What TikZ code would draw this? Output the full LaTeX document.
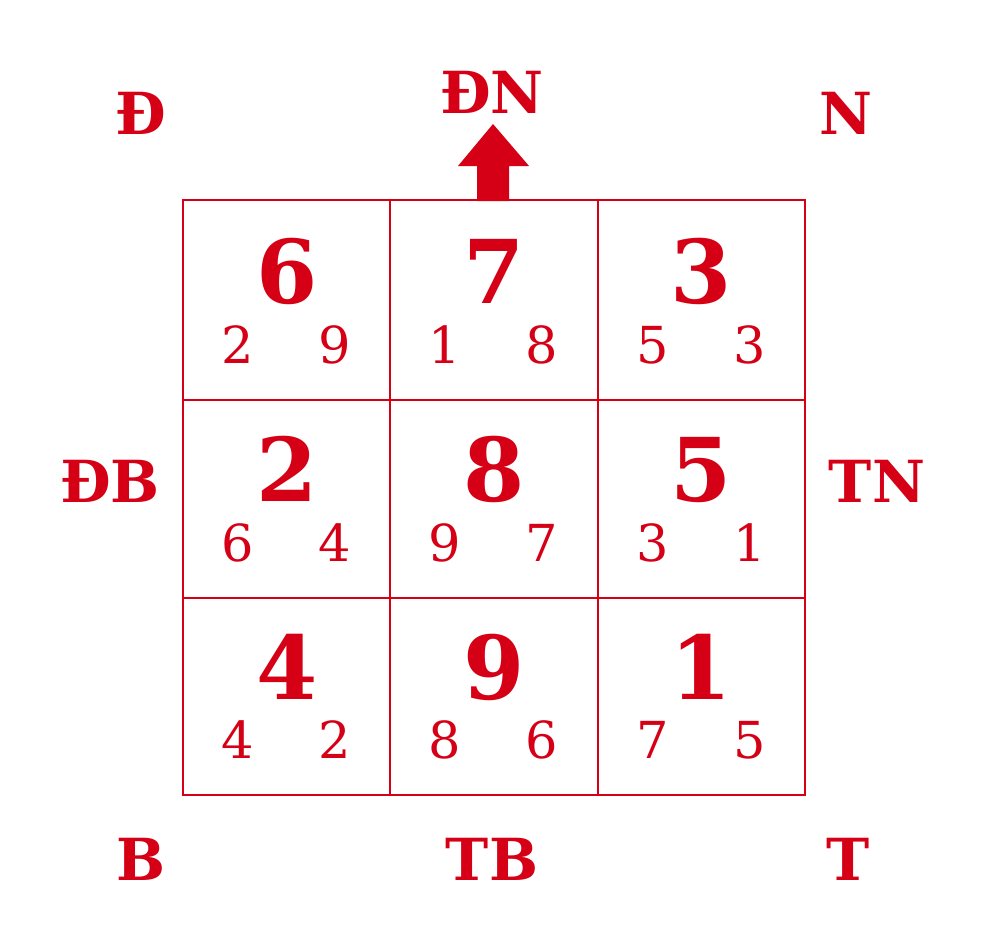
\documentclass[tikz,border=0pt]{standalone}
\usepackage{fontspec}
\setmainfont{DejaVu Serif}
\definecolor{fsred}{RGB}{214,0,22}
\begin{document}
\begin{tikzpicture}[x=1pt,y=-1pt,
  gridline/.style={draw=fsred,line width=2.8pt},
  bignum/.style={text=fsred,font=\fontsize{88}{88}\selectfont\bfseries,anchor=base,inner sep=0pt},
  smallnum/.style={text=fsred,font=\fontsize{51}{51}\selectfont,anchor=base,inner sep=0pt},
  dirlabel/.style={text=fsred,font=\fontsize{58}{58}\selectfont\bfseries,anchor=base,inner sep=0pt},
  arrowshape/.style={fill=fsred,draw=none}]
\useasboundingbox (0,0) rectangle (996,940);
% grid
\draw[gridline] (183,200) rectangle (805,795);
\draw[gridline] (390,200) -- (390,795);
\draw[gridline] (598,200) -- (598,795);
\draw[gridline] (183,400) -- (805,400);
\draw[gridline] (183,598) -- (805,598);
% arrow
\fill[arrowshape] (477,201) -- (477,166) -- (458,166) -- (493,124) -- (529,166) -- (509,166) -- (509,201) -- cycle;
% direction labels
\node[dirlabel] (lD)  at (141,134) {Đ};
\node[dirlabel] (lDN) at (492,113) {ĐN};
\node[dirlabel] (lN)  at (846,134) {N};
\node[dirlabel] (lDB) at (110,502) {ĐB};
\node[dirlabel] (lTN) at (877,502) {TN};
\node[dirlabel] (lB)  at (141,880) {B};
\node[dirlabel] (lTB) at (492,880) {TB};
\node[dirlabel] (lT)  at (848,880) {T};
% row 1
\node[bignum] (b11) at (287,303) {6};
\node[smallnum] (l11) at (238,363) {2};
\node[smallnum] (r11) at (335,363) {9};
\node[bignum] (b12) at (494,303) {7};
\node[smallnum] (l12) at (445,363) {1};
\node[smallnum] (r12) at (542,363) {8};
\node[bignum] (b13) at (701,303) {3};
\node[smallnum] (l13) at (653,363) {5};
\node[smallnum] (r13) at (750,363) {3};
% row 2
\node[bignum] (b21) at (287,501) {2};
\node[smallnum] (l21) at (238,561) {6};
\node[smallnum] (r21) at (335,561) {4};
\node[bignum] (b22) at (494,501) {8};
\node[smallnum] (l22) at (445,561) {9};
\node[smallnum] (r22) at (542,561) {7};
\node[bignum] (b23) at (701,501) {5};
\node[smallnum] (l23) at (653,561) {3};
\node[smallnum] (r23) at (750,561) {1};
% row 3
\node[bignum] (b31) at (287,699) {4};
\node[smallnum] (l31) at (238,758) {4};
\node[smallnum] (r31) at (335,758) {2};
\node[bignum] (b32) at (494,699) {9};
\node[smallnum] (l32) at (445,758) {8};
\node[smallnum] (r32) at (542,758) {6};
\node[bignum] (b33) at (701,699) {1};
\node[smallnum] (l33) at (653,758) {7};
\node[smallnum] (r33) at (750,758) {5};
\end{tikzpicture}
\end{document}
